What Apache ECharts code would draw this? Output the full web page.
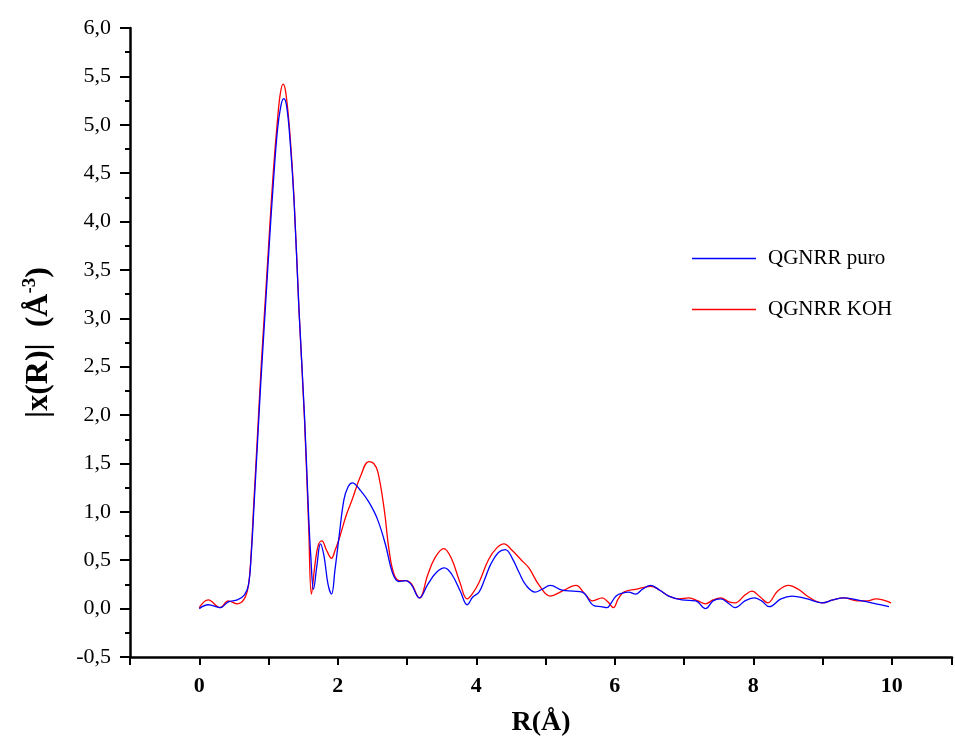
<!DOCTYPE html>
<html>
<head>
<meta charset="utf-8">
<script src="https://cdn.jsdelivr.net/npm/echarts@6/dist/echarts.min.js"></script>
<style>
html,body{margin:0;padding:0;background:#fff;}
#chart{width:955px;height:742px;}
</style>
</head>
<body>
<div id="chart"></div>
<script>
const seriesNames = ['QGNRR puro', 'QGNRR KOH'];

const puroR = [0, 0.13, 0.30, 0.42, 0.55, 0.65, 0.71, 0.75, 0.79, 0.84, 0.89, 0.95, 1.01, 1.07, 1.13, 1.18, 1.22, 1.26, 1.31, 1.37, 1.44, 1.52, 1.58, 1.61, 1.65, 1.70, 1.75, 1.80, 1.86, 1.91, 1.96, 2.02, 2.09, 2.15, 2.21, 2.33, 2.45, 2.57, 2.69, 2.79, 2.88, 2.98, 3.06, 3.18, 3.30, 3.42, 3.54, 3.65, 3.77, 3.87, 3.95, 4.04, 4.12, 4.21, 4.32, 4.42, 4.52, 4.62, 4.72, 4.85, 4.95, 5.07, 5.24, 5.40, 5.53, 5.70, 5.80, 5.89, 5.94, 6.02, 6.11, 6.20, 6.30, 6.40, 6.52, 6.65, 6.78, 6.97, 7.17, 7.31, 7.42, 7.53, 7.65, 7.74, 7.88, 8.01, 8.12, 8.23, 8.40, 8.56, 8.78, 9.00, 9.15, 9.31, 9.57, 9.77, 9.96];
const puroChi = [0.00, 0.04, 0.01, 0.07, 0.09, 0.14, 0.24, 0.55, 1.05, 1.70, 2.35, 3.05, 3.75, 4.40, 4.95, 5.20, 5.27, 5.20, 4.85, 4.20, 3.09, 1.99, 0.95, 0.55, 0.20, 0.45, 0.67, 0.55, 0.25, 0.15, 0.40, 0.75, 1.13, 1.26, 1.30, 1.22, 1.10, 0.93, 0.66, 0.37, 0.28, 0.29, 0.25, 0.11, 0.25, 0.37, 0.42, 0.35, 0.18, 0.04, 0.12, 0.17, 0.30, 0.46, 0.58, 0.61, 0.52, 0.37, 0.24, 0.17, 0.20, 0.24, 0.19, 0.18, 0.17, 0.03, 0.02, 0.01, 0.05, 0.13, 0.16, 0.17, 0.15, 0.20, 0.24, 0.19, 0.13, 0.09, 0.08, 0.00, 0.08, 0.10, 0.05, 0.01, 0.08, 0.11, 0.08, 0.02, 0.10, 0.13, 0.10, 0.06, 0.09, 0.11, 0.08, 0.05, 0.02];

const kohR = [0, 0.13, 0.30, 0.42, 0.55, 0.65, 0.71, 0.75, 0.79, 0.84, 0.89, 0.95, 1.01, 1.07, 1.13, 1.17, 1.21, 1.25, 1.31, 1.37, 1.44, 1.52, 1.58, 1.62, 1.67, 1.72, 1.77, 1.84, 1.91, 1.96, 2.02, 2.12, 2.21, 2.33, 2.45, 2.52, 2.58, 2.67, 2.74, 2.81, 2.89, 2.98, 3.06, 3.18, 3.30, 3.40, 3.53, 3.64, 3.76, 3.87, 3.95, 4.04, 4.18, 4.30, 4.40, 4.52, 4.64, 4.76, 4.91, 5.07, 5.24, 5.44, 5.56, 5.68, 5.82, 5.90, 5.98, 6.05, 6.13, 6.30, 6.52, 6.65, 6.78, 6.93, 7.07, 7.20, 7.31, 7.42, 7.53, 7.65, 7.74, 7.88, 7.98, 8.10, 8.21, 8.35, 8.51, 8.65, 8.80, 9.00, 9.15, 9.31, 9.50, 9.65, 9.77, 9.99];
const kohChi = [0.01, 0.09, 0.01, 0.08, 0.05, 0.10, 0.24, 0.58, 1.12, 1.78, 2.45, 3.15, 3.85, 4.52, 5.05, 5.32, 5.42, 5.33, 4.90, 4.22, 3.09, 1.95, 0.85, 0.15, 0.45, 0.66, 0.70, 0.60, 0.52, 0.60, 0.72, 0.96, 1.13, 1.37, 1.52, 1.50, 1.41, 1.03, 0.61, 0.36, 0.29, 0.29, 0.26, 0.11, 0.35, 0.52, 0.62, 0.52, 0.28, 0.10, 0.16, 0.27, 0.51, 0.63, 0.67, 0.60, 0.51, 0.42, 0.24, 0.13, 0.18, 0.24, 0.16, 0.08, 0.11, 0.07, 0.01, 0.10, 0.17, 0.20, 0.23, 0.19, 0.13, 0.10, 0.11, 0.08, 0.05, 0.09, 0.11, 0.07, 0.06, 0.14, 0.18, 0.12, 0.06, 0.18, 0.24, 0.20, 0.12, 0.06, 0.09, 0.11, 0.08, 0.08, 0.10, 0.06];

const zip = (xs, ys) => xs.map((x, i) => [x, ys[i]]);
const serif = "'Liberation Serif','Times New Roman',serif";

const chart = echarts.init(document.getElementById('chart'), null, {renderer: 'canvas'});
chart.setOption({
  animation: false,
  backgroundColor: '#ffffff',
  grid: {left: 130, right: 0, top: 28, bottom: 82, containLabel: false},
  legend: {
    orient: 'vertical',
    left: 692,
    top: 248,
    padding: 0,
    itemWidth: 64,
    itemHeight: 1.5,
    itemGap: 30,
    icon: 'rect',
    textStyle: {fontFamily: serif, fontSize: 21, color: '#000', lineHeight: 20, padding: [0, 0, 0, 7]},
    data: seriesNames
  },
  xAxis: {
    type: 'value',
    min: -1,
    max: 10.87,
    interval: 1,
    name: 'R(Å)',
    nameLocation: 'middle',
    nameGap: 52,
    nameTextStyle: {fontFamily: serif, fontSize: 28, fontWeight: 'bold', color: '#000'},
    axisLine: {show: true, onZero: false, lineStyle: {color: '#000', width: 2.5}},
    axisTick: {show: true, inside: false, length: 8, lineStyle: {color: '#000', width: 2}},
    splitLine: {show: false},
    axisLabel: {
      margin: 18,
      fontFamily: serif, fontSize: 22, fontWeight: 'bold', color: '#000',
      formatter: v => (Math.abs(v - Math.round(v)) < 1e-6 && Math.round(v) >= 0 && Math.round(v) % 2 === 0) ? String(Math.round(v)) : ''
    }
  },
  yAxis: {
    type: 'value',
    min: -0.5,
    max: 6,
    interval: 0.5,
    name: '{a|\u007Cx(R)\u007C  (Å}{s|-3}{a|)}',
    nameLocation: 'middle',
    nameGap: 74,
    nameRotate: 90,
    nameTextStyle: {
      rich: {
        a: {fontFamily: serif, fontSize: 32, fontWeight: 'bold', color: '#000'},
        s: {fontFamily: serif, fontSize: 19, fontWeight: 'bold', color: '#000', padding: [0, 0, 16, 0]}
      }
    },
    axisLine: {show: true, onZero: false, lineStyle: {color: '#000', width: 2.5}},
    axisTick: {show: true, inside: false, length: 10, lineStyle: {color: '#000', width: 2}},
    minorTick: {show: true, splitNumber: 2, length: 5, lineStyle: {color: '#000', width: 2}},
    splitLine: {show: false},
    axisLabel: {
      margin: 19,
      fontFamily: serif, fontSize: 22, color: '#000',
      formatter: v => v.toFixed(1).replace('.', ',')
    }
  },
  series: [
    {
      name: seriesNames[0], type: 'line', data: zip(puroR, puroChi),
      showSymbol: false, symbol: 'none', smooth: 0.4,
      lineStyle: {color: '#0000ff', width: 1.3}, itemStyle: {color: '#0000ff'}, z: 3
    },
    {
      name: seriesNames[1], type: 'line', data: zip(kohR, kohChi),
      showSymbol: false, symbol: 'none', smooth: 0.4,
      lineStyle: {color: '#ff0000', width: 1.3}, itemStyle: {color: '#ff0000'}, z: 2
    }
  ]
});
</script>
</body>
</html>
